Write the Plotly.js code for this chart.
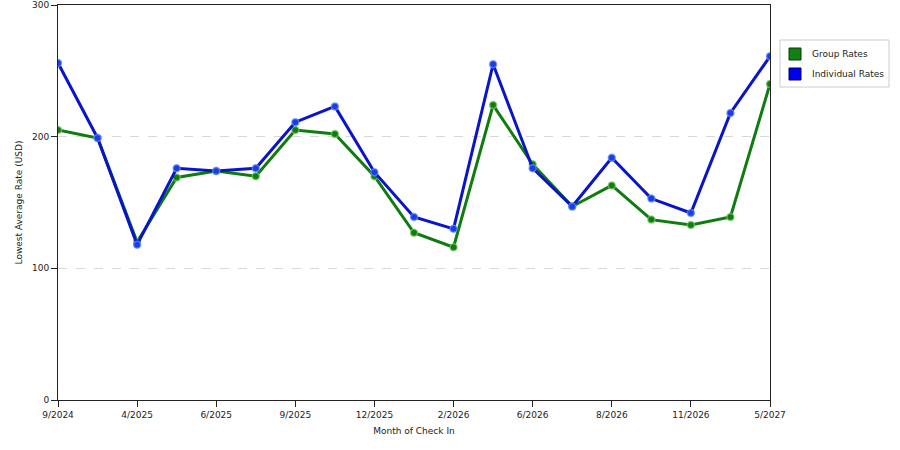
<!DOCTYPE html>
<html>
<head>
<meta charset="utf-8">
<script src="https://cdn.plot.ly/plotly-3.0.1.min.js"></script>
<style>
  html, body { margin: 0; padding: 0; background: #fff; }
  #chart { width: 900px; height: 450px; }
</style>
</head>
<body>
<div id="chart"></div>
<script>
// one point per month slot, only every other slot carries a label
var monthIndex = [0, 1, 2, 3, 4, 5, 6, 7, 8, 9, 10, 11, 12, 13, 14, 15, 16, 17, 18];
var tickIndex = [0, 2, 4, 6, 8, 10, 12, 14, 16, 18];
var tickLabels = ['9/2024', '4/2025', '6/2025', '9/2025', '12/2025', '2/2026', '6/2026', '8/2026', '11/2026', '5/2027'];

var seriesNames = ['Group Rates', 'Individual Rates'];
var groupRates = [205, 199, 120, 169, 174, 170, 205, 202, 170, 127, 116, 224, 179, 147, 163, 137, 133, 139, 240];
var individualRates = [256, 199, 118, 176, 174, 176, 211, 223, 173, 139, 130, 255, 176, 147, 184, 153, 142, 218, 261];

var green = '#107c10';
var blue = '#0a14c8';

var data = [
  {
    x: monthIndex, y: groupRates, type: 'scatter', mode: 'lines+markers',
    name: seriesNames[0],
    line: {color: green, width: 3},
    marker: {color: green, size: 7, line: {color: 'rgba(120,200,100,0.7)', width: 1.5}}
  },
  {
    x: monthIndex, y: individualRates, type: 'scatter', mode: 'lines+markers',
    name: seriesNames[1],
    line: {color: blue, width: 3},
    marker: {color: '#1a3ee0', size: 7, line: {color: 'rgba(100,140,255,0.7)', width: 1.5}}
  }
];

// legend drawn by hand (square swatches like the original)
var W = 712, H = 395, L = 58, T = 5;
function px(x) { return (x - L) / W; }
function py(y) { return (T + H - y) / H; }

var shapes = [
  {type: 'rect', xref: 'paper', yref: 'paper', x0: px(780), x1: px(889), y0: py(87), y1: py(40),
   line: {color: '#cccccc', width: 1}, fillcolor: '#fff'},
  {type: 'rect', xref: 'paper', yref: 'paper', x0: px(789), x1: px(801), y0: py(60), y1: py(48),
   line: {color: '#0a3a0a', width: 1}, fillcolor: '#128012'},
  {type: 'rect', xref: 'paper', yref: 'paper', x0: px(789), x1: px(801), y0: py(80), y1: py(68),
   line: {color: '#00006a', width: 1}, fillcolor: '#0000ee'}
];
var annotations = [
  {xref: 'paper', yref: 'paper', x: px(810), y: py(54), xanchor: 'left', yanchor: 'middle',
   text: seriesNames[0], showarrow: false, font: {size: 9, color: '#222'}},
  {xref: 'paper', yref: 'paper', x: px(810), y: py(74), xanchor: 'left', yanchor: 'middle',
   text: seriesNames[1], showarrow: false, font: {size: 9, color: '#222'}}
];

var layout = {
  width: 900, height: 450,
  margin: {l: 58, r: 130, t: 5, b: 50},
  paper_bgcolor: '#fff',
  plot_bgcolor: '#fff',
  font: {family: 'DejaVu Sans, Verdana, sans-serif', size: 9, color: '#222'},
  showlegend: false,
  xaxis: {
    range: [0, 18],
    tickvals: tickIndex,
    ticktext: tickLabels,
    ticks: 'outside', ticklen: 6, tickcolor: '#222',
    showgrid: false, zeroline: false,
    showline: true, linecolor: '#222', linewidth: 1, mirror: true,
    tickfont: {size: 9, color: '#222'},
    title: {text: 'Month of Check In', font: {size: 9, color: '#222'}, standoff: 8}
  },
  yaxis: {
    range: [0, 300],
    tickvals: [0, 100, 200, 300],
    ticks: 'outside', ticklen: 6, tickcolor: '#222',
    showgrid: true, gridcolor: '#d8d8d8', griddash: 'dash', gridwidth: 1,
    zeroline: false,
    showline: true, linecolor: '#222', linewidth: 1, mirror: true,
    tickfont: {size: 9, color: '#222'},
    title: {text: 'Lowest Average Rate (USD)', font: {size: 9, color: '#222'}, standoff: 7}
  },
  shapes: shapes,
  annotations: annotations
};

Plotly.newPlot('chart', data, layout, {displayModeBar: false, staticPlot: true});
</script>
</body>
</html>
